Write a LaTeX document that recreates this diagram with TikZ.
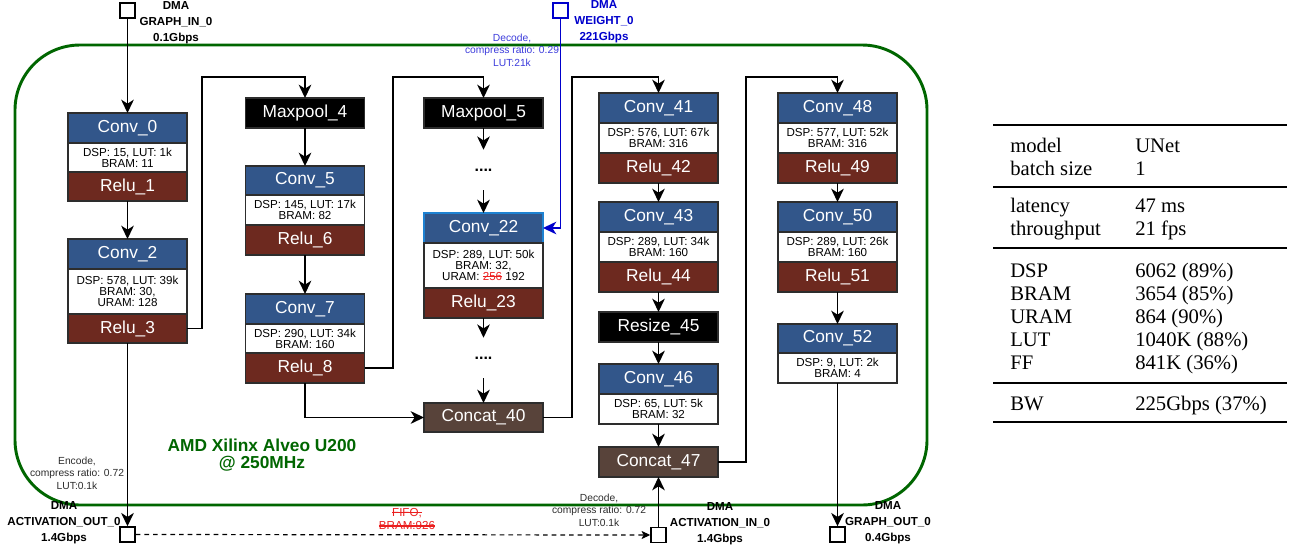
\documentclass[tikz,border=0pt]{standalone}
\usepackage{fontspec}
\setmainfont{Liberation Sans}
\newfontfamily\tabfont{Liberation Serif}
\usetikzlibrary{arrows.meta}
\newsavebox\strikebox
\newcommand\mystrike[1]{\sbox\strikebox{#1}\rlap{\vrule height 0.36em depth -0.26em width \wd\strikebox}\usebox\strikebox}
\definecolor{convblue}{RGB}{50,86,138}
\definecolor{relubrown}{RGB}{109,41,31}
\definecolor{catbrown}{RGB}{88,67,58}
\definecolor{bordergray}{RGB}{45,45,45}
\definecolor{fpgagreen}{RGB}{0,102,0}
\definecolor{dmablue}{RGB}{0,0,204}
\definecolor{decblue}{RGB}{60,60,220}
\definecolor{cborder}{RGB}{30,130,210}
\definecolor{notegray}{RGB}{45,45,45}
\definecolor{strikered}{RGB}{235,30,30}
\tikzset{
  bx/.style={rectangle, inner sep=0pt, outer sep=0pt, minimum width=89.25pt, minimum height=22.5pt, draw=bordergray, line width=0.9pt, align=center},
  hb/.style={minimum height=21.75pt},
  tb/.style={minimum height=33.75pt},
  hdr/.style={bx, fill=convblue, text=white, font=\fontsize{13}{14}\selectfont},
  info/.style={bx, fill=white, text=black, font=\fontsize{8.7}{8.1}\selectfont},
  relu/.style={bx, fill=relubrown, text=white, font=\fontsize{13}{14}\selectfont},
  blk/.style={bx, fill=black, text=white, font=\fontsize{13}{14}\selectfont},
  cat/.style={bx, fill=catbrown, text=white, font=\fontsize{13}{14}\selectfont},
  dma/.style={draw=black, fill=white, line width=1.1pt, minimum size=11.25pt, inner sep=0pt},
  dmalbl/.style={font=\bfseries\fontsize{8.7}{12}\selectfont, align=center, inner sep=0pt},
  note/.style={font=\fontsize{7.7}{9.4}\selectfont, align=center, inner sep=0pt, text=notegray},
  dotsn/.style={font=\bfseries\fontsize{12}{12}\selectfont, minimum height=30pt, inner sep=0pt},
  arr/.style={-{Stealth[length=10pt,width=9.5pt,inset=3pt]}, line width=1.1pt, draw=black},
  tab/.style={font=\tabfont\fontsize{15.5}{16}\selectfont, anchor=base west, inner sep=0pt},
}
\begin{document}
\begin{tikzpicture}[x=0.75pt,y=-0.75pt]
\fill[white] (0,0) rectangle (1301,550);
\path[use as bounding box] (0,0) rectangle (1301,550);

% FPGA boundary
\draw[fpgagreen, line width=2.2pt, rounded corners=48.75pt] (15,45) rectangle (927,505);
\node[font=\bfseries\fontsize{13}{12.75}\selectfont, text=fpgagreen, align=center, inner sep=0pt] (fpga) at (262,455) {AMD Xilinx Alveo U200\\@ 250MHz};

% Column A
\node[hdr] (c0) at (127.5,128) {Conv\_0};
\node[info, hb] (c0i) at (127.5,157.5) {DSP: 15, LUT: 1k\\BRAM: 11};
\node[relu, hb] (r1) at (127.5,186.5) {Relu\_1};
\node[hdr] (c2) at (127.5,254) {Conv\_2};
\node[info, tb] (c2i) at (127.5,291.5) {DSP: 578, LUT: 39k\\BRAM: 30,\\URAM: 128};
\node[relu, hb] (r3) at (127.5,328.5) {Relu\_3};

% Column B
\node[blk] (mp4) at (305,113) {Maxpool\_4};
\node[hdr, hb] (c5) at (305,180.5) {Conv\_5};
\node[info] (c5i) at (305,210) {DSP: 145, LUT: 17k\\BRAM: 82};
\node[relu] (r6) at (305,240) {Relu\_6};
\node[hdr] (c7) at (305,309) {Conv\_7};
\node[info, hb] (c7i) at (305,338.5) {DSP: 290, LUT: 34k\\BRAM: 160};
\node[relu] (r8) at (305,368) {Relu\_8};

% Column C
\node[blk] (mp5) at (483.5,113) {Maxpool\_5};
\node[dotsn] (d1) at (483.5,170) {....};
\node[hdr, draw=cborder] (c22) at (483.5,228) {Conv\_22};
\node[info, tb] (c22i) at (483.5,265.5) {DSP: 289, LUT: 50k\\BRAM: 32,\\URAM: \textcolor{strikered}{\mystrike{256}} 192};
\node[relu] (r23) at (483.5,303) {Relu\_23};
\node[dotsn] (d2) at (483.5,358) {....};
\node[cat, hb] (cat40) at (483.5,417.5) {Concat\_40};

% Column D
\node[hdr] (c41) at (658.5,108) {Conv\_41};
\node[info] (c41i) at (658.5,138) {DSP: 576, LUT: 67k\\BRAM: 316};
\node[relu] (r42) at (658.5,168) {Relu\_42};
\node[hdr] (c43) at (658.5,217) {Conv\_43};
\node[info] (c43i) at (658.5,247) {DSP: 289, LUT: 34k\\BRAM: 160};
\node[relu] (r44) at (658.5,277) {Relu\_44};
\node[blk] (rs45) at (658.5,327) {Resize\_45};
\node[hdr] (c46) at (658.5,379) {Conv\_46};
\node[info] (c46i) at (658.5,409) {DSP: 65, LUT: 5k\\BRAM: 32};
\node[cat] (cat47) at (658.5,462) {Concat\_47};

% Column E
\node[hdr] (c48) at (837.5,108) {Conv\_48};
\node[info] (c48i) at (837.5,138) {DSP: 577, LUT: 52k\\BRAM: 316};
\node[relu] (r49) at (837.5,168) {Relu\_49};
\node[hdr] (c50) at (837.5,217) {Conv\_50};
\node[info] (c50i) at (837.5,247) {DSP: 289, LUT: 26k\\BRAM: 160};
\node[relu] (r51) at (837.5,277) {Relu\_51};
\node[hdr, hb] (c52) at (837.5,338.5) {Conv\_52};
\node[info] (c52i) at (837.5,368) {DSP: 9, LUT: 2k\\BRAM: 4};

% DMA ports
\node[dma] (gin) at (127.5,10.5) {};
\node[dmalbl] (ginl) at (176,23) {DMA\\GRAPH\_IN\_0\\0.1Gbps};
\node[dma, draw=dmablue] (wgt) at (560.5,10.5) {};
\node[dmalbl, text=dmablue] (wgtl) at (604,22) {DMA\\WEIGHT\_0\\221Gbps};
\node[note, text=decblue] (decw) at (512,50) {Decode,\\compress ratio: 0.29\\LUT:21k};
\node[dma] (aout) at (127.5,534.5) {};
\node[dmalbl] (aoutl) at (64,523) {DMA\\ACTIVATION\_OUT\_0\\1.4Gbps};
\node[note] (enc) at (77,473) {Encode,\\compress ratio: 0.72\\LUT:0.1k};
\node[dma] (ain) at (658.5,535) {};
\node[dmalbl] (ainl) at (720,524) {DMA\\ACTIVATION\_IN\_0\\1.4Gbps};
\node[note] (dec) at (599,510) {Decode,\\compress ratio: 0.72\\LUT:0.1k};
\node[dma] (gout) at (837.5,534.5) {};
\node[dmalbl] (goutl) at (888,523) {DMA\\GRAPH\_OUT\_0\\0.4Gbps};
\node[font=\fontsize{8.7}{9.8}\selectfont, text=strikered, align=center, inner sep=0pt] (fifo) at (407,519) {\mystrike{FIFO,}\\\mystrike{BRAM:926}};

% Connectors
\coordinate (k1) at (202,77);
\coordinate (k2) at (393,77);
\coordinate (k3) at (572,77);
\coordinate (k4) at (746,77);
\draw[arr] (gin.south) -- (c0.north);
\draw[arr] (r1.south) -- (c2.north);
\draw[arr] (r3.east) -| (k1) -| (mp4.north);
\draw[arr] (mp4.south) -- (c5.north);
\draw[arr] (r6.south) -- (c7.north);
\draw[arr] (r8.east) -| (k2) -| (mp5.north);
\draw[arr] (r8.south) |- (cat40.west);
\draw[arr] (mp5.south) -- (d1.north);
\draw[arr] (d1.south) -- (c22.north);
\draw[arr] (r23.south) -- (d2.north);
\draw[arr] (d2.south) -- (cat40.north);
\draw[arr] (cat40.east) -| (k3) -| (c41.north);
\draw[arr] (r42.south) -- (c43.north);
\draw[arr] (r44.south) -- (rs45.north);
\draw[arr] (rs45.south) -- (c46.north);
\draw[arr] (c46i.south) -- (cat47.north);
\draw[arr] (ain.north) -- (cat47.south);
\draw[arr] (cat47.east) -| (k4) -| (c48.north);
\draw[arr] (r49.south) -- (c50.north);
\draw[arr] (r51.south) -- (c52.north);
\draw[arr] (c52i.south) -- (gout.north);
\draw[arr] (r3.south) -- (aout.north);
\draw[-{Stealth[length=6.5pt,width=6pt,inset=1.5pt]}, line width=0.9pt, dash pattern=on 3.5pt off 3pt] (aout.east) -- (ain.west);
\draw[arr, draw=dmablue, -{Stealth[length=10pt,width=9.5pt,inset=3pt,fill=dmablue]}] (wgt.south) |- (c22.east);

% Table
\draw[line width=1.4pt] (993,125) -- (1287,125);
\draw[line width=0.8pt] (993,187) -- (1287,187);
\draw[line width=0.8pt] (993,248) -- (1287,248);
\draw[line width=0.8pt] (993,383) -- (1287,383);
\draw[line width=1.4pt] (993,422) -- (1287,422);
\node[tab] at (1010,152) {model};       \node[tab] at (1135,152) {UNet};
\node[tab] at (1010,175) {batch size};  \node[tab] at (1135,175) {1};
\node[tab] at (1010,212) {latency};     \node[tab] at (1135,212) {47 ms};
\node[tab] at (1010,235) {throughput};  \node[tab] at (1135,235) {21 fps};
\node[tab] at (1010,277) {DSP};         \node[tab] at (1135,277) {6062 (89\%)};
\node[tab] at (1010,300) {BRAM};        \node[tab] at (1135,300) {3654 (85\%)};
\node[tab] at (1010,323) {URAM};        \node[tab] at (1135,323) {864 (90\%)};
\node[tab] at (1010,346) {LUT};         \node[tab] at (1135,346) {1040K (88\%)};
\node[tab] at (1010,369) {FF};          \node[tab] at (1135,369) {841K (36\%)};
\node[tab] at (1010,410) {BW};          \node[tab] at (1135,410) {225Gbps (37\%)};
\end{tikzpicture}
\end{document}
